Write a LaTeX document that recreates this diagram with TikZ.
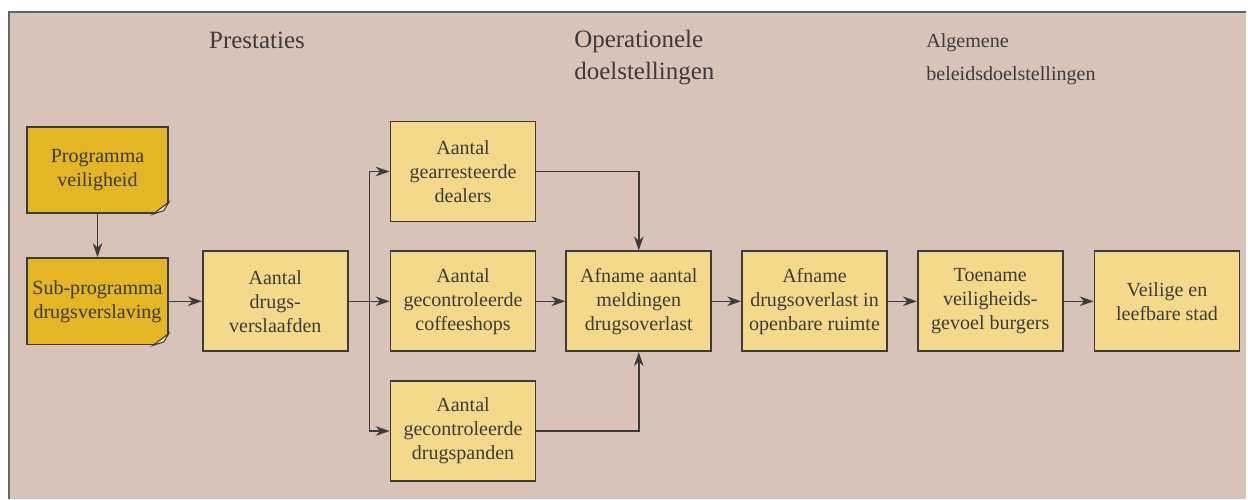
\documentclass[tikz,border=0pt]{standalone}
\usepackage{fontspec}
\setmainfont{Liberation Serif}
\usetikzlibrary{arrows.meta,positioning,calc}

\definecolor{bgrose}{RGB}{216,195,185}
\definecolor{boxyellow}{RGB}{245,217,139}
\definecolor{boxgold}{RGB}{228,181,36}
\definecolor{foldlight}{RGB}{240,228,172}
\definecolor{inkgray}{RGB}{59,59,59}
\definecolor{framegray}{RGB}{100,100,100}

\begin{document}
\begin{tikzpicture}[>={Stealth[length=8pt,width=5.5pt]}, font=\fontsize{11.4}{13.7}\selectfont, text=inkgray,
  box/.style={draw=inkgray, line width=1pt, fill=boxyellow, minimum width=2.9cm, minimum height=2.0cm, align=center, inner sep=2pt},
  notebox/.style={box, fill=boxgold, minimum width=2.82cm, minimum height=1.73cm},
  flow/.style={->, draw=inkgray, line width=0.85pt},
  head/.style={inner sep=0pt, align=left, font=\fontsize{14.2}{18.2}\selectfont}]

  % page and frame
  \useasboundingbox (0,0) rectangle (24.96,-9.98);
  \fill[bgrose] (0.18,-0.24) rectangle (24.92,-9.98);
  \draw[framegray, line width=1.2pt] (0.18,-9.98) -- (0.18,-0.24) -- (24.92,-0.24);

  % column headings
  \node[head] (prestaties) at (5.14,-0.8) {Prestaties};
  \node[head, anchor=west] (operationeel) at (11.48,-1.16) {Operationele\\doelstellingen};
  \node[head, anchor=west, font=\fontsize{11.4}{18.6}\selectfont] (algemeen) at (18.52,-1.19) {Algemene\\beleidsdoelstellingen};

  % programme notes
  \node[notebox] (prog) at (1.95,-3.4) {Programma\\veiligheid};
  \node[notebox, below=0.86cm of prog] (sub) {Sub-programma\\drugsverslaving};

  % performance boxes
  \node[box, right=0.66cm of sub] (verslaafden) {Aantal\\drugs-\\verslaafden};
  \node[box, right=0.82cm of verslaafden] (coffeeshops) {Aantal\\gecontroleerde\\coffeeshops};
  \node[box, above=0.56cm of coffeeshops] (dealers) {Aantal\\gearresteerde\\dealers};
  \node[box, below=0.56cm of coffeeshops] (drugspanden) {Aantal\\gecontroleerde\\drugspanden};

  % goals
  \node[box, right=0.58cm of coffeeshops] (meldingen) {Afname aantal\\meldingen\\drugsoverlast};
  \node[box, right=0.58cm of meldingen] (openbaar) {Afname\\drugsoverlast in\\openbare ruimte};
  \node[box, right=0.58cm of openbaar] (gevoel) {Toename\\veiligheids-\\gevoel burgers};
  \node[box, right=0.6cm of gevoel] (stad) {Veilige en\\leefbare stad};

  % folded corners
  \foreach \n in {prog,sub}{
    \fill[bgrose] ($(\n.south east)+(-0.36,-0.03)$) -- ($(\n.south east)+(0.04,-0.03)$) -- ($(\n.south east)+(0.04,0.27)$) -- cycle;
    \filldraw[fill=foldlight, draw=inkgray, line width=0.6pt] ($(\n.south east)+(-0.32,0)$) -- ($(\n.south east)+(0,0.24)$) -- ($(\n.south east)+(-0.1,0.07)$) -- cycle;
  }

  % connectors
  \draw[flow] (prog) -- (sub);
  \draw[flow] (sub) -- (verslaafden);
  \coordinate[right=0.42cm of verslaafden.east] (split);
  \draw[flow] (verslaafden) -- (coffeeshops);
  \draw[flow] (split) |- (dealers);
  \draw[flow] (split) |- (drugspanden);
  \draw[flow] (dealers) -| (meldingen);
  \draw[flow] (drugspanden) -| (meldingen);
  \draw[flow] (coffeeshops) -- (meldingen);
  \draw[flow] (meldingen) -- (openbaar);
  \draw[flow] (openbaar) -- (gevoel);
  \draw[flow] (gevoel) -- (stad);
\end{tikzpicture}
\end{document}
